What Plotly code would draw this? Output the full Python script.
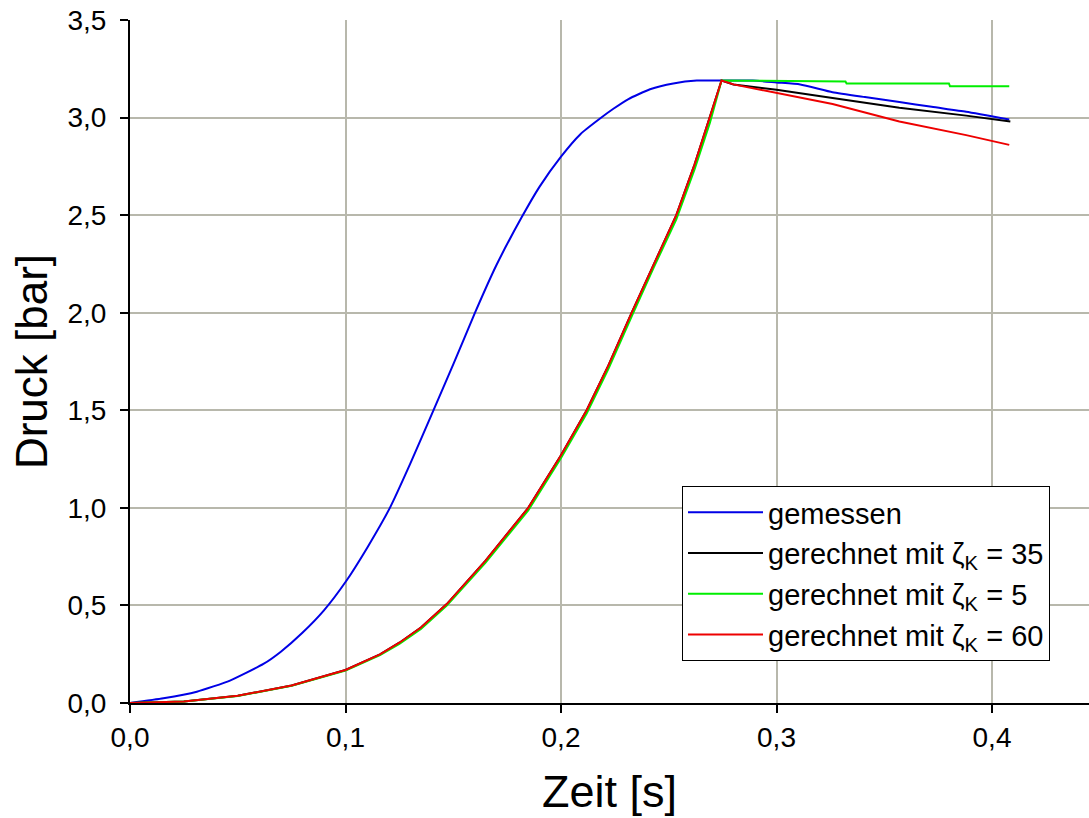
import plotly.graph_objects as go

# Measured ("gemessen")
t_meas = [0, 0.0155, 0.031, 0.0464, 0.0619, 0.07, 0.08, 0.09, 0.1, 0.1103, 0.1206, 0.13,
          0.1408, 0.15, 0.1601, 0.17, 0.1818, 0.19, 0.2, 0.209, 0.2181, 0.2243, 0.2313,
          0.2413, 0.2521, 0.263, 0.275, 0.289, 0.30, 0.311, 0.326, 0.341, 0.357, 0.372,
          0.388, 0.408]
p_meas = [0, 0.024, 0.058, 0.115, 0.20, 0.263, 0.36, 0.475, 0.62, 0.80, 1.0, 1.225,
          1.50, 1.735, 2.0, 2.243, 2.49, 2.645, 2.80, 2.915, 2.995, 3.045, 3.095,
          3.145, 3.175, 3.19, 3.19, 3.19, 3.18, 3.17, 3.13, 3.105, 3.08, 3.055,
          3.03, 2.99]

# Calculated rise (shared by the computed curves)
t_rise = [0, 0.025, 0.05, 0.075, 0.1, 0.116, 0.125, 0.135, 0.147, 0.165, 0.1848,
          0.2, 0.2119, 0.222, 0.2328, 0.243, 0.2535, 0.262, 0.2691, 0.2745]
p_rise = [0, 0.008, 0.037, 0.09, 0.169, 0.249, 0.309, 0.387, 0.507, 0.73, 1.0,
          1.27, 1.5, 1.73, 2.0, 2.25, 2.5, 2.76, 3.0, 3.19]
p_rise_green = [0, 0.008, 0.036, 0.088, 0.166, 0.245, 0.303, 0.380, 0.499, 0.72, 0.987,
                1.256, 1.484, 1.712, 1.981, 2.231, 2.478, 2.735, 2.974, 3.19]

# Decay after peak
t_k35 = [0.28, 0.30, 0.326, 0.357, 0.388, 0.4085]
p_k35 = [3.17, 3.142, 3.10, 3.05, 3.01, 2.98]

t_k5 = [0.332, 0.3325, 0.38, 0.3805, 0.408]
p_k5 = [3.185, 3.175, 3.175, 3.16, 3.16]

t_k60 = [0.28, 0.30, 0.326, 0.357, 0.388, 0.408]
p_k60 = [3.17, 3.125, 3.07, 2.98, 2.91, 2.86]

FONT = "Liberation Sans, Arial, sans-serif"

fig = go.Figure()
fig.add_trace(go.Scatter(x=t_meas, y=p_meas, mode="lines", name="gemessen",
                         line=dict(color="#0000e6", width=2, shape="spline", smoothing=0.5)))
fig.add_trace(go.Scatter(x=t_rise + t_k35, y=p_rise + p_k35, mode="lines",
                         name="gerechnet mit ζ<sub>K</sub> = 35",
                         line=dict(color="#000000", width=2)))
fig.add_trace(go.Scatter(x=t_rise + t_k5, y=p_rise_green + p_k5, mode="lines",
                         name="gerechnet mit ζ<sub>K</sub> = 5",
                         line=dict(color="#00ee00", width=2)))
fig.add_trace(go.Scatter(x=t_rise + t_k60, y=p_rise + p_k60, mode="lines",
                         name="gerechnet mit ζ<sub>K</sub> = 60",
                         line=dict(color="#ee0000", width=2)))

fig.update_layout(
    width=1089, height=818,
    margin=dict(l=130, r=0, t=20, b=115),
    paper_bgcolor="white", plot_bgcolor="white",
    separators=",.",
    font=dict(family=FONT, color="black", size=28),
    showlegend=True,
    legend=dict(x=0.5756, y=0.3177, xanchor="left", yanchor="top",
                bgcolor="white", bordercolor="black", borderwidth=1,
                font=dict(family=FONT, size=29, color="black"),
                itemwidth=75, tracegroupgap=0),
)
fig.update_xaxes(range=[0, 0.445], tickmode="array", tickvals=[0, 0.1, 0.2, 0.3, 0.4],
                 tickformat=".1f", showgrid=True, gridcolor="#b8b8ac", gridwidth=2,
                 showline=True, linecolor="black", linewidth=2,
                 ticks="outside", ticklen=8, tickwidth=2, tickcolor="black",
                 zeroline=False, tickfont=dict(size=28),
                 title=dict(text="Zeit [s]", font=dict(size=45), standoff=24))
fig.update_yaxes(range=[0, 3.5], tickmode="array", tickvals=[0, 0.5, 1, 1.5, 2, 2.5, 3, 3.5],
                 tickformat=".1f", showgrid=True, gridcolor="#b8b8ac", gridwidth=2,
                 showline=True, linecolor="black", linewidth=2,
                 ticks="outside", ticklen=8, tickwidth=2, tickcolor="black",
                 zeroline=False, tickfont=dict(size=28), ticklabelstandoff=8,
                 title=dict(text="Druck [bar]", font=dict(size=44), standoff=6))

fig.write_html("out.html")
